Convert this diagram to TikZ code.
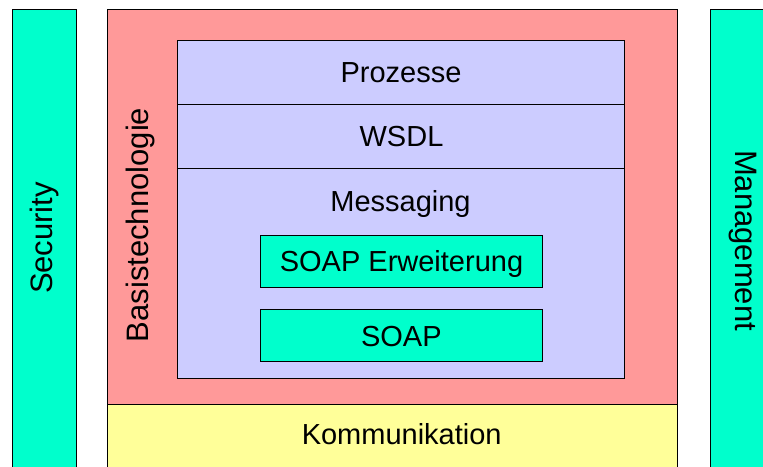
\documentclass[tikz,border=0pt]{standalone}
\usepackage{fontspec}
\setmainfont{Liberation Sans}
\definecolor{tealbox}{HTML}{00FFCC}
\definecolor{redbox}{HTML}{FF9999}
\definecolor{bluebox}{HTML}{CCCCFF}
\definecolor{yellowbox}{HTML}{FFFF99}
\begin{document}
\begin{tikzpicture}[x=1pt,y=-1pt,
  box/.style={draw=black, line width=1pt, inner sep=0pt, outer sep=0pt, anchor=north west},
  lbl/.style={inner sep=0pt, anchor=base, font=\fontsize{29}{34}\selectfont},
  vlbl/.style={inner sep=0pt, anchor=base, font=\fontsize{31}{36}\selectfont}]
\useasboundingbox (0,0) rectangle (763,466);
\clip (0,0) rectangle (763,466);
% side pillars
\node[box, fill=tealbox, minimum width=64pt, minimum height=470pt] (sec) at (12,9) {};
\node[box, fill=tealbox, minimum width=64pt, minimum height=470pt] (mgmt) at (710,9) {};
% base technology and communication
\node[box, fill=redbox, minimum width=570pt, minimum height=395.5pt] (basis) at (107.5,9) {};
\node[box, fill=yellowbox, minimum width=570pt, minimum height=70pt] (komm) at (107.5,404.5) {};
% stack
\node[box, fill=bluebox, minimum width=447pt, minimum height=64pt] (proz) at (177.5,40) {};
\node[box, fill=bluebox, minimum width=447pt, minimum height=64pt] (wsdl) at (177.5,104) {};
\node[box, fill=bluebox, minimum width=447pt, minimum height=210.5pt] (msg) at (177.5,168) {};
\node[box, fill=tealbox, minimum width=282pt, minimum height=52pt] (soapx) at (260,235) {};
\node[box, fill=tealbox, minimum width=282pt, minimum height=52pt] (soap) at (260,309) {};
% labels
\node[lbl] (tproz) at (401,82.3) {Prozesse};
\node[lbl] (twsdl) at (401.5,146.7) {WSDL};
\node[lbl] (tmsg) at (400.5,211) {Messaging};
\node[lbl] (tsoapx) at (401.5,271.7) {SOAP Erweiterung};
\node[lbl] (tsoap) at (401.3,346.7) {SOAP};
\node[lbl] (tkomm) at (401.7,444.5) {Kommunikation};
\node[vlbl, rotate=90] (tsec) at (52.3,238) {Security};
\node[vlbl, rotate=90] (tbasis) at (148.3,225) {Basistechnologie};
\node[vlbl, rotate=-90] (tmgmt) at (735,240.5) {Management};
\end{tikzpicture}
\end{document}
